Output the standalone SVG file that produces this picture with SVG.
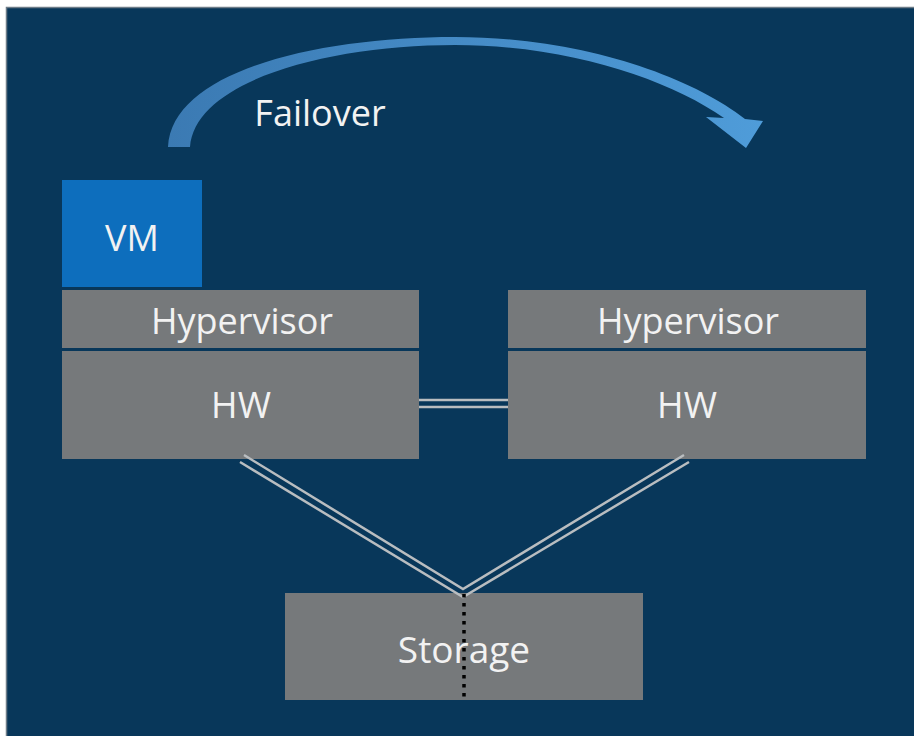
<svg xmlns="http://www.w3.org/2000/svg" width="914" height="736" viewBox="0 0 914 736">
<defs>
<linearGradient id="arrowGrad" x1="0" y1="0" x2="1" y2="0">
<stop offset="0" stop-color="#3b7ab3"/>
<stop offset="1" stop-color="#4f9cd9"/>
</linearGradient>
<style>
.box{fill:#76797b}
.vm{fill:#0d6ebd}
.lbl{font-family:"Open Sans","Noto Sans",sans-serif;fill:#f2f2f2;text-anchor:middle;font-size:36px}
.link{stroke:#b9bdc0;stroke-width:2.5;fill:none}
</style>
</defs>
<rect x="0" y="0" width="914" height="736" fill="#ffffff"/>
<rect x="6.5" y="7.5" width="910" height="730" fill="#08375a" stroke="#6d7c88" stroke-width="1.5"/>

<g id="failover-arrow">
<path d="M168,147 C172,70 320,37 455,37 C580,37 690,76 745,119 L763,121 L746,148 L706,117 L724,118 C670,80 570,45 455,45 C330,45 195,80 190,147 Z" fill="url(#arrowGrad)"/>
<text class="lbl" x="320" y="126">Failover</text>
</g>

<g id="vm">
<rect class="vm" x="62" y="180" width="140" height="107"/>
<text class="lbl" x="132" y="251">VM</text>
</g>

<g id="hypervisor-left">
<rect class="box" x="62" y="290" width="357" height="58"/>
<text class="lbl" x="242" y="334">Hypervisor</text>
</g>
<g id="hw-left">
<rect class="box" x="62" y="351" width="357" height="108"/>
<text class="lbl" x="241" y="418">HW</text>
</g>

<g id="hypervisor-right">
<rect class="box" x="508" y="290" width="358" height="58"/>
<text class="lbl" x="688" y="334">Hypervisor</text>
</g>
<g id="hw-right">
<rect class="box" x="508" y="351" width="358" height="108"/>
<text class="lbl" x="687" y="418">HW</text>
</g>

<g id="storage">
<rect class="box" x="285" y="593" width="358" height="107"/>
<text class="lbl" x="464" y="663" style="font-size:37px">Storage</text>
</g>

<g id="connectors">
<line class="link" x1="419" y1="400" x2="508" y2="400"/>
<line class="link" x1="419" y1="407" x2="508" y2="407"/>
<path class="link" d="M244,455 L463,589 L684,455"/>
<path class="link" d="M240,462 L463,597 L689,462"/>
<line x1="464" y1="594" x2="464" y2="698" stroke="#000" stroke-width="3.5" stroke-dasharray="3.5 5.5"/>
</g>
</svg>
